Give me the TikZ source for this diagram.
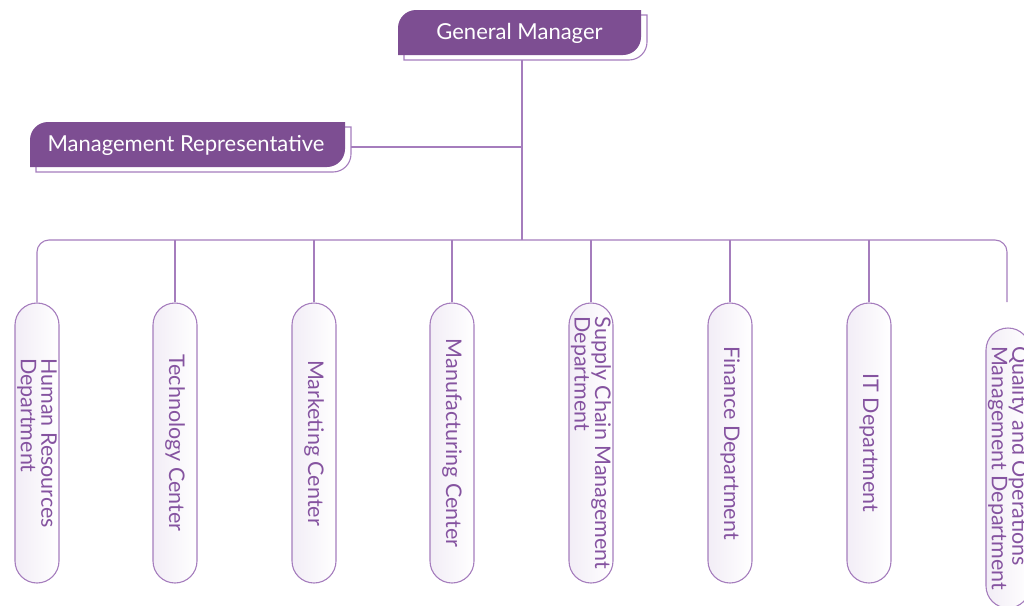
\documentclass[tikz,border=0pt]{standalone}
\usepackage{fontspec}
\setmainfont{Lato}
\definecolor{hd}{HTML}{7D4E92}
\definecolor{ln}{HTML}{A57DBD}
\definecolor{tx}{HTML}{8553A0}
\definecolor{pf}{HTML}{F2EDF6}
\begin{document}
\begin{tikzpicture}[x=1pt,y=-1pt,
  conn/.style={draw=ln, line width=1.1pt},
  headfill/.style={fill=hd, draw=none},
  headshadow/.style={fill=white, draw=ln, line width=1.1pt},
  headtxt/.style={text=white, font=\fontsize{22}{26}\selectfont, inner sep=0pt},
  dept/.style={draw=ln, line width=1.1pt, rounded corners=22pt, rotate=-90,
    minimum width=280pt, minimum height=44pt, left color=pf, right color=white,
    text=tx, font=\fontsize{21.5}{20.5}\selectfont, align=left, inner sep=0pt},
]
\useasboundingbox (0,0) rectangle (1024,605);

% General Manager header
\path[headshadow] (404,60) -- (404,33) arc[start angle=180,end angle=270,radius=18] -- (647,15) -- (647,42) arc[start angle=0,end angle=90,radius=18] -- cycle;
\path[headfill] (398,55) -- (398,28) arc[start angle=180,end angle=270,radius=18] -- (641,10) -- (641,37) arc[start angle=0,end angle=90,radius=18] -- cycle;
\node[headtxt] (gm) at (519.5,33) {General Manager};
\coordinate (gmout) at (522,60);

% Management Representative header
\path[headshadow] (36,172) -- (36,145) arc[start angle=180,end angle=270,radius=18] -- (351,127) -- (351,154) arc[start angle=0,end angle=90,radius=18] -- cycle;
\path[headfill] (30,167) -- (30,140) arc[start angle=180,end angle=270,radius=18] -- (345,122) -- (345,149) arc[start angle=0,end angle=90,radius=18] -- cycle;
\node[headtxt] (mr) at (186,145) {Management Representative};
\coordinate (mrout) at (351,147);

% Departments
\node[dept] (hr) at (37,443) {Human Resources\\Department};
\node[dept] (tc) at (175,443) {Technology Center};
\node[dept] (mc) at (314,443) {Marketing Center};
\node[dept] (mf) at (452,443) {Manufacturing Center};
\node[dept] (sc) at (591,443) {Supply Chain Management\\Department};
\node[dept] (fd) at (730,443) {Finance Department};
\node[dept] (it) at (869,443) {IT Department};
\node[dept] (qo) at (1008,468) {Quality and Operations\\Management Department};

% Connectors
\coordinate (busL) at (37,240);
\coordinate (busR) at (1007,240);
\coordinate (qend) at (1007,302);
\draw[conn] (gmout) -- (gmout |- busL);
\draw[conn] (mrout) -- (mrout -| gmout);
\draw[conn, rounded corners=12pt] (hr.west) -- (busL) -- (busR) -- (qend);
\foreach \n in {tc,mc,mf,sc,fd,it}{
  \draw[conn] (\n.west) -- (\n.west |- busL);
}
\end{tikzpicture}
\end{document}
